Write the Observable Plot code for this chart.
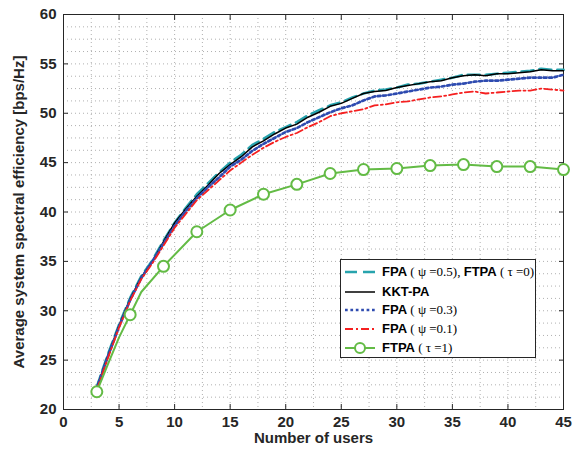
<!DOCTYPE html>
<html>
<head>
<meta charset="utf-8">
<script src="https://cdn.jsdelivr.net/npm/d3@7"></script>
<script src="https://cdn.jsdelivr.net/npm/@observablehq/plot@0.6"></script>
<style>
  body { margin: 0; background: #fff; }
  #wrap { position: relative; width: 580px; height: 452px; }
  #legend {
    position: absolute; left: 340px; top: 259px; width: 196px; height: 99px;
    box-sizing: border-box; border: 1px solid #262626; background: #fff;
    font-size: 13px; color: #000;
  }
  .row { position: absolute; left: 0; height: 18px; display: flex; align-items: center; white-space: pre; }
  .row svg { margin-left: 3px; margin-right: 6px; }
  .b { font-family: "Liberation Sans", Arial, sans-serif; font-weight: bold; }
  .s { font-family: "Liberation Serif", "Times New Roman", serif; }
</style>
</head>
<body>
<div id="wrap"></div>
<script>
// ---------- data ----------
const users = [3,4,5,6,7,8,9,10,11,12,13,14,15,16,17,18,19,20,21,22,23,24,25,26,27,28,29,30,31,32,33,34,35,36,37,38,39,40,41,42,43,44,45];

const fpa05 = [22.3,25.6,28.6,31.3,33.5,35.1,37.1,38.9,40.4,41.8,42.9,44.0,45.0,45.8,46.8,47.4,48.1,48.6,49.1,49.8,50.3,50.8,51.1,51.6,52.0,52.3,52.4,52.6,52.9,53.0,53.2,53.4,53.6,53.9,53.9,53.9,54.0,54.1,54.2,54.3,54.5,54.4,54.4];
const kkt   = [22.2,25.5,28.5,31.2,33.4,35.0,37.0,38.9,40.3,41.6,42.7,43.9,44.8,45.6,46.6,47.2,47.9,48.5,48.9,49.6,50.1,50.7,51.0,51.5,52.0,52.2,52.3,52.6,52.8,53.0,53.2,53.3,53.6,53.8,53.9,53.8,54.0,54.0,54.1,54.2,54.4,54.3,54.3];
const fpa03 = [22.2,25.4,28.4,31.1,33.3,35.0,36.8,38.6,40.1,41.4,42.5,43.5,44.6,45.3,46.2,46.9,47.5,48.1,48.5,49.1,49.6,50.1,50.5,50.8,51.3,51.7,51.8,52.0,52.2,52.4,52.6,52.7,52.9,53.0,53.2,53.3,53.3,53.4,53.5,53.6,53.6,53.6,53.9];
const fpa01 = [22.0,25.2,28.3,31.0,33.2,34.8,36.6,38.4,39.8,41.2,42.2,43.2,44.2,45.0,45.8,46.5,47.1,47.6,48.0,48.6,49.1,49.7,50.0,50.2,50.4,50.8,50.9,51.1,51.2,51.4,51.6,51.7,51.9,52.1,52.2,52.0,52.1,52.2,52.3,52.3,52.5,52.4,52.3];

const ftpaUsers = [3,4,5,6,7,9,12,15,18,21,24,27,30,33,36,39,42,45];
const ftpa1     = [21.8,24.6,27.3,29.6,31.9,34.5,38.0,40.2,41.8,42.8,43.9,44.3,44.4,44.7,44.8,44.6,44.6,44.3];
const ftpaMarkerUsers = [3,6,9,12,15,18,21,24,27,30,33,36,39,42,45];

const xTicks = [0,5,10,15,20,25,30,35,40,45];
const yTicks = [20,25,30,35,40,45,50,55,60];
const xGrid = [2.5,5,7.5,10,12.5,15,17.5,20,22.5,25,27.5,30,32.5,35,37.5,40,42.5];
const yGrid = [21.25,22.5,23.75,25,26.25,27.5,28.75,30,31.25,32.5,33.75,35,36.25,37.5,38.75,40,41.25,42.5,43.75,45,46.25,47.5,48.75,50,51.25,52.5,53.75,55,56.25,57.5,58.75];

const xLabel = "Number of users";
const yLabel = "Average system spectral efficiency [bps/Hz]";

// ---------- build ----------
const toRows = (xs, ys) => xs.map((x, i) => ({x, y: ys[i]}));
const rCyan = toRows(users, fpa05);
const rBlack = toRows(users, kkt);
const rBlue = toRows(users, fpa03);
const rRed = toRows(users, fpa01);
const rGreen = toRows(ftpaUsers, ftpa1);
const rGreenMk = rGreen.filter(d => ftpaMarkerUsers.includes(d.x));

const C = {cyan: "#27a3ad", black: "#000000", blue: "#2e4bb0", red: "#f52020", green: "#63bb45", axis: "#262626"};
const S = {
  cyan: {w: 2.6, dash: "12,6"},
  black: {w: 1.5, dash: null},
  blue: {w: 2.7, dash: "2.7,2.7"},
  red: {w: 1.8, dash: "8,3,2,3"},
  green: {w: 2, dash: null}
};

const chart = Plot.plot({
  width: 580, height: 452,
  marginLeft: 63, marginRight: 17, marginTop: 14, marginBottom: 43,
  style: {fontFamily: "'Liberation Sans', Arial, sans-serif", fontSize: "15px", fontWeight: "bold", color: C.axis, background: "#fff"},
  x: {domain: [0, 45]},
  y: {domain: [20, 60]},
  marks: [
    Plot.gridX(xGrid, {stroke: "#b0b0b0", strokeOpacity: 1, strokeDasharray: "1,3"}),
    Plot.gridY(yGrid, {stroke: "#b0b0b0", strokeOpacity: 1, strokeDasharray: "1,3"}),
    Plot.frame({stroke: C.axis, strokeWidth: 1}),
    Plot.axisX(xTicks, {anchor: "bottom", tickSize: -5, tickPadding: 12, label: xLabel, labelAnchor: "center", labelArrow: "none", labelOffset: 33, stroke: C.axis}),
    Plot.axisX(xTicks, {anchor: "top", tickSize: -5, tickFormat: () => "", label: null, stroke: C.axis}),
    Plot.axisY(yTicks, {anchor: "left", tickSize: -5, tickPadding: 12, label: yLabel, labelAnchor: "center", labelArrow: "none", labelOffset: 50, stroke: C.axis}),
    Plot.axisY(yTicks, {anchor: "right", tickSize: -5, tickFormat: () => "", label: null, stroke: C.axis}),
    Plot.line(rCyan, {x: "x", y: "y", stroke: C.cyan, strokeWidth: S.cyan.w, strokeDasharray: S.cyan.dash}),
    Plot.line(rBlack, {x: "x", y: "y", stroke: C.black, strokeWidth: S.black.w}),
    Plot.line(rBlue, {x: "x", y: "y", stroke: C.blue, strokeWidth: S.blue.w, strokeDasharray: S.blue.dash}),
    Plot.line(rRed, {x: "x", y: "y", stroke: C.red, strokeWidth: S.red.w, strokeDasharray: S.red.dash}),
    Plot.line(rGreen, {x: "x", y: "y", stroke: C.green, strokeWidth: S.green.w}),
    Plot.dot(rGreenMk, {x: "x", y: "y", r: 5.5, stroke: C.green, strokeWidth: 2, fill: "#fff"})
  ]
});
const wrap = document.getElementById("wrap");
wrap.appendChild(chart);

// ---------- legend ----------
const legendItems = [
  {html: '<span class="b">FPA</span><span class="s"> ( ψ =0.5), </span><span class="b">FTPA</span><span class="s"> ( τ =0)</span>', key: "cyan", marker: false},
  {html: '<span class="b">KKT-PA</span>', key: "black", marker: false},
  {html: '<span class="b">FPA</span><span class="s"> ( ψ =0.3)</span>', key: "blue", marker: false},
  {html: '<span class="b">FPA</span><span class="s"> ( ψ =0.1)</span>', key: "red", marker: false},
  {html: '<span class="b">FTPA</span><span class="s"> ( τ =1)</span>', key: "green", marker: true}
];
const rowTops = [3, 23, 41, 60, 79];
const legend = document.createElement("div");
legend.id = "legend";
legendItems.forEach((it, i) => {
  const row = document.createElement("div");
  row.className = "row";
  row.style.top = rowTops[i] + "px";
  const st = S[it.key], col = C[it.key];
  const sw = `<svg width="32" height="14"><line x1="1" y1="7" x2="31" y2="7" stroke="${col}" stroke-width="${st.w}" ${st.dash ? `stroke-dasharray="${st.dash}"` : ""}/>` +
    (it.marker ? `<circle cx="16" cy="7" r="5" fill="#fff" stroke="${col}" stroke-width="2"/>` : "") + `</svg>`;
  row.innerHTML = sw + `<span>${it.html}</span>`;
  legend.appendChild(row);
});
wrap.appendChild(legend);
</script>
</body>
</html>
